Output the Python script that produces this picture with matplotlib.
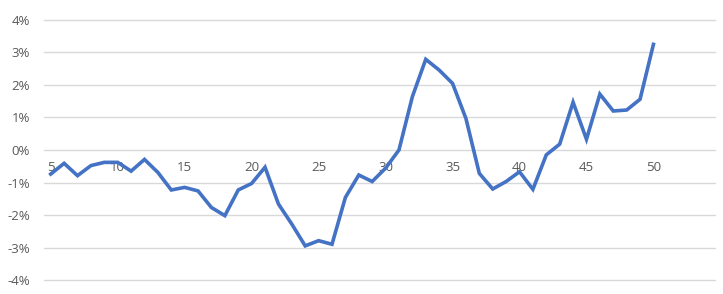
import numpy as np
import matplotlib.pyplot as plt

# values (percent)
periods = np.arange(5, 51)
returns_pct = [
    -0.74, -0.41, -0.79, -0.48, -0.38, -0.38, -0.65, -0.29, -0.69, -1.23,
    -1.15, -1.26, -1.77, -2.02, -1.23, -1.03, -0.53, -1.66, -2.28, -2.95,
    -2.79, -2.90, -1.46, -0.77, -0.97, -0.56, 0.00, 1.64, 2.79, 2.46,
    2.05, 0.97, -0.72, -1.20, -0.97, -0.67, -1.21, -0.15, 0.18, 1.47,
    0.33, 1.72, 1.20, 1.23, 1.56, 3.25,
]
x_ticks = [5, 10, 15, 20, 25, 30, 35, 40, 45, 50]
y_ticks = [-4, -3, -2, -1, 0, 1, 2, 3, 4]
y_labels = [f"{v}%" for v in y_ticks]

plt.rcParams["font.family"] = ["Open Sans", "DejaVu Sans"]
text_col = "#595959"

fig = plt.figure(figsize=(7.23, 2.94), dpi=100)
ax = fig.add_axes([0.0609, 0.0476, 0.9281, 0.8844])

ax.plot(periods, returns_pct, color="#4472C4", linewidth=2.6,
        solid_joinstyle="miter", zorder=3)

ax.set_xlim(4.5, 54.6)
ax.set_ylim(-4, 4)
ax.set_yticks(y_ticks)
ax.set_yticklabels(y_labels)
ax.set_xticks(x_ticks)
ax.set_xticklabels([str(v) for v in x_ticks])

ax.grid(axis="y", color="#D9D9D9", linewidth=1.0, zorder=0)
ax.grid(axis="x", visible=False)
for gl in ax.get_ygridlines():
    gl.set_clip_on(False)

for side in ["top", "right", "left"]:
    ax.spines[side].set_visible(False)
ax.spines["bottom"].set_position(("data", 0))
ax.spines["bottom"].set_color("none")

ax.tick_params(axis="y", length=0, pad=10, labelsize=9.5, labelcolor=text_col)
ax.tick_params(axis="x", length=0, pad=8, labelsize=9.5, labelcolor=text_col)

fig.savefig("out.png", dpi=100)
